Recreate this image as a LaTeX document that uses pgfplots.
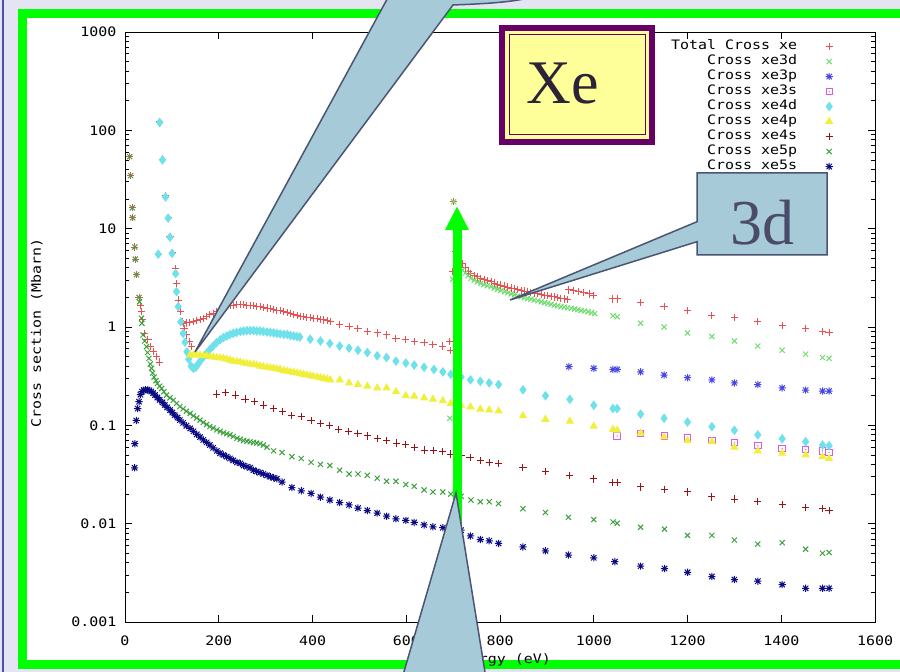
\documentclass[border=0pt]{standalone}
\usepackage{fontspec}
\setmainfont{Liberation Serif}
\setmonofont{DejaVu Sans Mono}[FakeStretch=1.15]
\usepackage{pgfplots}
\pgfplotsset{compat=1.18}
\usetikzlibrary{plotmarks}

\definecolor{ctot}{RGB}{235,80,80}
\definecolor{c3d}{RGB}{110,220,110}
\definecolor{c3p}{RGB}{70,70,230}
\definecolor{c3s}{RGB}{220,90,220}
\definecolor{c4d}{RGB}{110,225,235}
\definecolor{c4p}{RGB}{240,240,60}
\definecolor{c4s}{RGB}{150,20,20}
\definecolor{c5p}{RGB}{60,160,60}
\definecolor{c5s}{RGB}{10,10,130}
\definecolor{callfill}{RGB}{167,202,216}
\definecolor{callline}{RGB}{75,85,115}
\definecolor{frameg}{RGB}{0,255,0}
\definecolor{xepurple}{RGB}{102,0,102}
\definecolor{xeyellow}{RGB}{255,255,153}
\definecolor{bglav}{RGB}{228,228,242}
\definecolor{bgblue}{RGB}{80,80,170}

\pgfdeclareplotmark{gstar}{%
  \pgfpathmoveto{\pgfqpoint{-\pgfplotmarksize}{0pt}}\pgfpathlineto{\pgfqpoint{\pgfplotmarksize}{0pt}}%
  \pgfpathmoveto{\pgfqpoint{0pt}{-\pgfplotmarksize}}\pgfpathlineto{\pgfqpoint{0pt}{\pgfplotmarksize}}%
  \pgfpathmoveto{\pgfqpoint{-.75\pgfplotmarksize}{-.75\pgfplotmarksize}}\pgfpathlineto{\pgfqpoint{.75\pgfplotmarksize}{.75\pgfplotmarksize}}%
  \pgfpathmoveto{\pgfqpoint{-.75\pgfplotmarksize}{.75\pgfplotmarksize}}\pgfpathlineto{\pgfqpoint{.75\pgfplotmarksize}{-.75\pgfplotmarksize}}%
  \pgfusepathqstroke}
\pgfdeclareplotmark{gbox}{%
  \pgfpathrectangle{\pgfqpoint{-\pgfplotmarksize}{-\pgfplotmarksize}}{\pgfqpoint{2\pgfplotmarksize}{2\pgfplotmarksize}}%
  \pgfusepathqstroke
  \pgfpathcircle{\pgfpointorigin}{0.7pt}\pgfusepathqfill}

\pgfplotsset{gp/.style={only marks, mark size=3.6pt, line width=1pt, mark options={solid, line width=1pt}}}
\newcommand{\gpf}{\ttfamily\fontsize{13}{14}\selectfont}

\begin{document}
\begin{tikzpicture}
\useasboundingbox (0pt,0pt) rectangle (900pt,672pt);
\clip (0pt,0pt) rectangle (900pt,672pt);
\begin{scope}[x=1pt,y=1pt]
\fill[bglav] (0,0) rectangle (900,672);
\draw[bgblue, line width=2pt] (3,0) -- (3,672);
\fill[white] (22,8) rectangle (900,659);
\draw[frameg, line width=9pt] (22.5,7.5) rectangle (906,658.5);
\end{scope}

\begin{axis}[
  at={(125pt,50pt)}, anchor=south west,
  scale only axis, width=750pt, height=590pt,
  xmin=0, xmax=1600, ymin=0.001, ymax=1000, ymode=log,
  xtick={0,200,400,600,800,1000,1200,1400,1600},
  xticklabels={0,200,400,600,800,1000,1200,1400,1600},
  ytick={0.001,0.01,0.1,1,10,100,1000},
  yticklabels={0.001,0.01,0.1,1,10,100,1000},
  /pgf/number format/assume math mode=true,
  tick align=inside, major tick length=7pt, minor tick length=4pt,
  tick style={black, line width=0.8pt},
  axis line style={line width=0.9pt},
  ticklabel style={font=\gpf},
  xticklabel style={yshift=-10pt},
  yticklabel style={xshift=-5pt},
  xlabel={Energy (eV)}, ylabel={Cross section (Mbarn)},
  label style={font=\gpf},
  xlabel style={at={(axis description cs:0.502,-0.065)}, anchor=center},
  ylabel style={at={(axis description cs:-0.1175,0.49)}, anchor=center},
  legend style={draw=none, fill=none, at={(axis description cs:0.948,0.991)}, anchor=north east,
    font=\gpf, row sep=1pt,
    nodes={inner sep=1.5pt, text height=8.5pt, text depth=2.5pt},
    /tikz/every odd column/.append style={column sep=27pt}},
  legend cell align=right, legend plot pos=right,
]
% Total
\addplot[gp, mark=+, color=ctot] coordinates {
(10,54) (12,34.6) (15.5,16.3) (16.5,12.9) (21,6.5) (22,4.9) (24.5,3.4) (30,2.0) (33,1.65) (35,1.43) (36.5,1.18)
(42,0.86) (49,0.74) (54,0.63) (60,0.56) (67,0.50) (73,0.44)
(71,5.5) (74,122) (80,51) (86.5,21.5) (92,13) (96,8.4) (100.5,5.7) (108,3.9) (110,2.74) (113.5,1.88) (119,1.43) (122,1.13)
(126,0.97) (131.5,0.83) (137,0.71) (142,0.63)
(124,1.09) (131,1.10) (138,1.11) (146,1.13) (153,1.16) (160,1.19) (167,1.23) (174,1.28) (181,1.33) (188,1.38)
(196,1.45) (203,1.52) (210,1.59) (217,1.62) (224,1.65) (231,1.67) (238,1.68) (246,1.68) (253,1.68) (260,1.67)
(267,1.66) (274,1.64) (281,1.63) (288,1.61) (295,1.59) (303,1.56) (310,1.54) (317,1.51) (324,1.48) (331,1.46)
(339,1.43) (346,1.40) (353,1.37) (360,1.34) (367,1.32) (374,1.29) (381,1.28) (388,1.26) (395,1.25) (403,1.23)
(410,1.21) (417,1.19) (424,1.18) (431,1.16) (438,1.14)
(458,1.07) (478,1.02) (497,0.97) (517,0.90) (538,0.87) (558,0.83) (578,0.77) (599,0.74) (617,0.71) (638,0.69)
(657,0.66) (678,0.64) (692,0.71) (694,0.58)
(699,3.65) (701,19) (706,5.8) (712,5.0) (720,4.4) (726,4.0) (732,3.7) (738,3.5) (745,3.35) (752,3.23) (759,3.13)
(766,3.05) (773,2.97) (781,2.89) (788,2.8) (795,2.73) (802,2.67) (810,2.61) (817,2.55) (824,2.49) (831,2.44)
(838,2.40) (845,2.36) (852,2.32) (859,2.28) (866,2.24) (873,2.21) (881,2.18) (888,2.14) (895,2.11) (902,2.08)
(909,2.05) (916,2.02) (923,1.99) (930,1.96) (937,1.93) (944,1.90)
(947,2.38) (957,2.33) (968,2.28) (979,2.23) (990,2.17) (1000,2.08)
(1041,1.93) (1050,1.93) (1100,1.77) (1150,1.61) (1200,1.47) (1252,1.32) (1300,1.25) (1350,1.13) (1402,1.03)
(1452,0.97) (1488,0.90) (1502,0.88)
};
\addlegendentry{Total Cross xe}
% 3d
\addplot[gp, mark=x, color=c3d] coordinates {
(693,0.118) (699,3.06) (701,18.8) (706,5.0) (712,4.3) (720,3.8) (726,3.55) (732,3.32) (738,3.13) (745,3.0)
(752,2.88) (759,2.78) (766,2.7) (773,2.63) (781,2.57) (788,2.49) (795,2.42) (802,2.35) (810,2.29) (817,2.23)
(824,2.17) (831,2.12) (838,2.07) (845,2.03) (852,1.99) (859,1.95) (866,1.92) (873,1.88) (881,1.85) (888,1.81)
(895,1.77) (902,1.74) (909,1.70) (916,1.67) (923,1.64) (930,1.61) (937,1.59) (944,1.57) (952,1.55) (959,1.52)
(966,1.50) (973,1.47) (980,1.45) (988,1.43) (995,1.40) (1002,1.37)
(1041,1.3) (1050,1.27) (1100,1.09) (1150,1.0) (1200,0.87) (1252,0.80) (1300,0.72) (1350,0.64) (1402,0.58)
(1452,0.53) (1488,0.49) (1502,0.48)
};
\addlegendentry{Cross xe3d}
% 3p
\addplot[gp, mark=gstar, color=c3p] coordinates {
(947,0.395) (1000,0.38) (1041,0.37) (1050,0.37) (1100,0.35) (1150,0.325) (1200,0.305) (1252,0.29) (1300,0.27)
(1350,0.26) (1402,0.24) (1452,0.228) (1488,0.223) (1502,0.223)
};
\addlegendentry{Cross xe3p}
% 3s
\addplot[gp, mark=gbox, mark size=3.2pt, color=c3s] coordinates {
(1050,0.078) (1100,0.083) (1151,0.078) (1200,0.074) (1252,0.07) (1300,0.067) (1350,0.062) (1402,0.058)
(1452,0.057) (1488,0.055) (1502,0.053)
};
\addlegendentry{Cross xe3s}
% 4d
\addplot[gp, mark=diamond*, mark size=4pt, color=c4d] coordinates {
(71,5.5) (74,120) (80,50) (86.5,21) (92,12.8) (96,8.2) (100.5,5.6) (108,3.5) (110,2.29) (113.5,1.61) (119,1.13)
(124,0.86) (128,0.70) (132,0.56) (136,0.47) (141,0.40) (146,0.38) (151,0.39) (156,0.42) (162,0.46) (168,0.50)
(174,0.54) (181,0.59) (188,0.64) (195,0.69) (203,0.74) (210,0.78) (217,0.81) (224,0.84) (231,0.86) (238,0.88)
(246,0.90) (253,0.91) (260,0.92) (267,0.92) (274,0.92) (281,0.91) (288,0.91) (295,0.90) (303,0.89) (310,0.88)
(317,0.87) (324,0.86) (331,0.85) (339,0.84) (346,0.84) (353,0.82) (360,0.81) (367,0.80) (373,0.79)
(395,0.75) (417,0.72) (437,0.68) (458,0.64) (478,0.61) (497,0.58) (517,0.55) (538,0.51) (558,0.49) (578,0.45)
(599,0.43) (617,0.41) (638,0.39) (659,0.37) (678,0.35) (695,0.33) (717,0.31) (737,0.29) (758,0.28) (777,0.27)
(797,0.26) (849,0.23) (897,0.20) (949,0.184) (1000,0.16) (1041,0.148) (1050,0.148) (1100,0.13) (1150,0.118)
(1200,0.108) (1252,0.097) (1300,0.089) (1350,0.080) (1402,0.073) (1452,0.068) (1488,0.063) (1502,0.062)
};
\addlegendentry{Cross xe4d}
% 4p
\addplot[gp, mark=triangle*, mark size=3.8pt, color=c4p] coordinates {
(139,0.52) (146,0.52) (153,0.52) (160,0.515) (167,0.51) (174,0.51) (181,0.50) (188,0.495) (196,0.49) (203,0.485)
(210,0.48) (217,0.47) (224,0.46) (231,0.45) (239,0.445) (246,0.44) (253,0.43) (260,0.425) (267,0.42) (274,0.415)
(281,0.41) (288,0.40) (295,0.395) (303,0.39) (310,0.385) (317,0.38) (324,0.375) (331,0.37) (339,0.36) (346,0.355)
(353,0.35) (360,0.345) (367,0.34) (374,0.335) (381,0.33) (388,0.325) (395,0.32) (402,0.315) (410,0.31) (417,0.305)
(424,0.30) (431,0.295) (438,0.29)
(458,0.29) (478,0.27) (497,0.26) (517,0.25) (538,0.24) (558,0.24) (578,0.22) (599,0.20) (617,0.198) (638,0.19)
(657,0.184) (678,0.178) (695,0.167) (717,0.16) (737,0.154) (758,0.146) (777,0.143) (797,0.14) (849,0.125)
(897,0.115) (949,0.11) (1000,0.098) (1041,0.091) (1050,0.089) (1100,0.083) (1150,0.076) (1200,0.07) (1252,0.068)
(1300,0.06) (1350,0.055) (1402,0.052) (1452,0.05) (1488,0.048) (1502,0.046)
};
\addlegendentry{Cross xe4p}
% 4s
\addplot[gp, mark=+, color=c4s] coordinates {
(196,0.208) (215,0.214) (235,0.203) (256,0.185) (276,0.174) (296,0.161) (317,0.149) (336,0.137) (356,0.127)
(376,0.122) (397,0.113) (417,0.105) (437,0.099) (456,0.091) (477,0.086) (497,0.082) (517,0.078) (538,0.074)
(558,0.070) (579,0.066) (599,0.064) (617,0.060) (639,0.056) (658,0.055) (678,0.054) (695,0.051) (717,0.049)
(736,0.047) (758,0.044) (777,0.042) (797,0.041) (849,0.0375) (897,0.0337) (949,0.031) (1000,0.0285)
(1041,0.026) (1050,0.026) (1100,0.0236) (1151,0.0224) (1200,0.021) (1252,0.0187) (1300,0.0178) (1350,0.0167)
(1402,0.0157) (1452,0.0147) (1488,0.0142) (1502,0.0137)
};
\addlegendentry{Cross xe4s}
% 5p
\addplot[gp, mark=x, color=c5p] coordinates {
(10,54) (12,34.6) (15.5,16.3) (16.5,12.9) (21,6.5) (22,4.9) (24.5,3.4) (30,2.0) (31,1.8) (35,1.23) (36,1.09)
(38.5,0.83) (42,0.72) (45.8,0.63) (48,0.55) (51,0.48) (54,0.42) (56.5,0.38) (59,0.34) (62,0.31) (66,0.285)
(69,0.267) (74,0.25) (78,0.237) (83,0.22) (88.6,0.203) (96,0.19) (103,0.18) (110,0.167) (117,0.155) (124,0.147)
(131,0.139) (139,0.132) (146,0.125) (153,0.119) (160,0.113) (167,0.107) (174,0.102) (181,0.097) (188,0.094)
(196,0.09) (203,0.087) (210,0.084) (217,0.082) (224,0.08) (231,0.077) (239,0.074) (246,0.072) (253,0.070)
(260,0.069) (267,0.068) (274,0.067) (281,0.066) (288,0.065) (295,0.063) (303,0.060)
(317,0.055) (335,0.053) (356,0.048) (376,0.046) (397,0.042) (417,0.04) (437,0.039) (458,0.035) (478,0.032)
(497,0.032) (517,0.031) (538,0.029) (558,0.027) (578,0.027) (599,0.025) (617,0.024) (638,0.022) (657,0.021)
(678,0.021) (695,0.020) (717,0.019) (738,0.0174) (758,0.0167) (777,0.0167) (797,0.016) (849,0.0142) (897,0.013)
(946,0.0116) (1000,0.011) (1041,0.0104) (1050,0.0101) (1100,0.0092) (1151,0.0088) (1200,0.0076) (1252,0.0076)
(1300,0.0068) (1350,0.0062) (1402,0.0064) (1452,0.0055) (1488,0.0050) (1502,0.0051)
};
\addlegendentry{Cross xe5p}
% 5s
\addplot[gp, mark=gstar, color=c5s] coordinates {
(20.5,0.037) (21,0.065) (24,0.112) (27,0.148) (30,0.174) (33,0.205) (36,0.22) (40,0.228) (44,0.23) (48,0.229)
(52,0.226) (56,0.221) (60,0.213) (64,0.203) (69,0.192) (74,0.181) (80,0.171) (85,0.161) (90,0.152) (96,0.143)
(101,0.135) (106,0.127) (112,0.12) (117,0.113) (124,0.106) (131,0.099) (139,0.093) (146,0.087) (153,0.081)
(160,0.076) (167,0.071) (174,0.067) (181,0.063) (188,0.059) (196,0.055) (203,0.052) (210,0.05) (217,0.048)
(224,0.046) (231,0.044) (239,0.042) (246,0.041) (253,0.039) (260,0.038) (267,0.037) (274,0.035) (281,0.034)
(288,0.033) (295,0.032) (303,0.031) (310,0.030) (317,0.0293) (324,0.0286)
(335,0.0265) (356,0.0233) (376,0.0216) (397,0.0203) (417,0.0186) (437,0.0174) (458,0.0164) (478,0.0155)
(497,0.0144) (517,0.0136) (538,0.0128) (558,0.0119) (578,0.0112) (599,0.0108) (617,0.0103) (638,0.0097)
(657,0.0093) (678,0.0091) (717,0.0086) (737,0.0075) (758,0.0069) (777,0.0067) (797,0.0063) (849,0.0058)
(897,0.0053) (946,0.0048) (1000,0.0045) (1045,0.0041) (1100,0.0037) (1151,0.0035) (1200,0.0032) (1252,0.0029)
(1300,0.0027) (1350,0.0026) (1402,0.0024) (1452,0.0022) (1488,0.0022) (1502,0.0022)
};
\addlegendentry{Cross xe5s}
\end{axis}

\begin{scope}[x=1pt,y=1pt]
% Xe box
\fill[xeyellow] (502,530) rectangle (652,644);
\draw[xepurple, line width=6pt] (502,530) rectangle (652,644);
\draw[xepurple, line width=1pt] (509,537) rectangle (645,637);
\node[text={rgb,255:red,45;green,35;blue,55}, font=\fontsize{62}{62}\selectfont] at (563,588) {Xe};
% 3d callout
\filldraw[fill=callfill, draw=callline, line width=1.5pt, line join=miter]
  (697,417) -- (697,430.3) -- (510,372) -- (697,450.3) -- (697,499) -- (827,499) -- (827,417) -- cycle;
\node[text={rgb,255:red,75;green,75;blue,105}, font=\fontsize{64}{64}\selectfont] at (762,449) {3d};
% top-left callout
\filldraw[fill=callfill, draw=callline, line width=1.5pt, line join=miter]
  (391,680) -- (195,320) -- (453,667) .. controls (490,668.5) and (525,670) .. (548,680) -- cycle;
% green arrow
\fill[frameg] (453.3,12) rectangle (461.7,443);
\fill[frameg] (445,442) -- (469,442) -- (457,465.3) -- cycle;
% bottom callout
\filldraw[fill=callfill, draw=callline, line width=1.5pt, line join=miter]
  (401,-10) -- (456,179) -- (486.6,-10) -- cycle;
\end{scope}
\end{tikzpicture}
\end{document}
